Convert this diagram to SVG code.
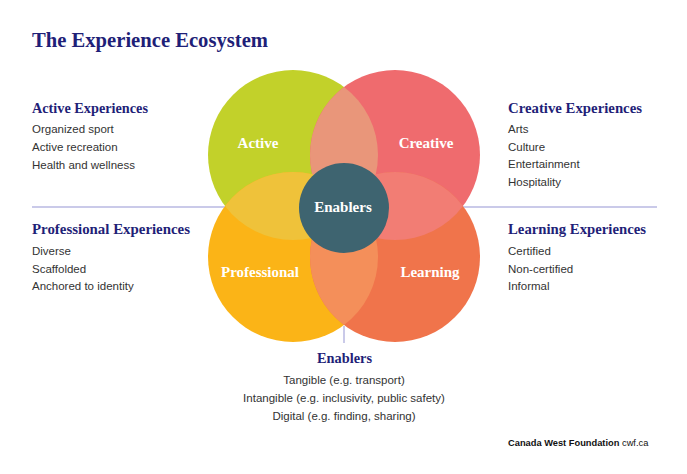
<svg xmlns="http://www.w3.org/2000/svg" width="687" height="474" viewBox="0 0 687 474">
<style>
.title{font-family:"Liberation Serif","DejaVu Serif",serif;font-weight:bold;fill:#1f1f78;font-size:22px}
.head{font-family:"Liberation Serif","DejaVu Serif",serif;font-weight:bold;fill:#1f1f78;font-size:15px}
.body{font-family:"Liberation Sans","DejaVu Sans",sans-serif;fill:#333;font-size:11.5px}
.lbl{font-family:"Liberation Serif","DejaVu Serif",serif;font-weight:bold;fill:#fff;font-size:15px;text-anchor:middle}
.rule{stroke:#b9b9e2;stroke-width:1.5;fill:none}
.foot{font-family:"Liberation Sans","DejaVu Sans",sans-serif;fill:#111;font-size:9.3px}
</style>
<rect width="687" height="474" fill="#fff"/>
<text class="title" x="32" y="47" textLength="236" lengthAdjust="spacingAndGlyphs">The Experience Ecosystem</text>

<g id="connectors">
<line class="rule" x1="32" y1="207" x2="657" y2="207"/>
<line class="rule" x1="344" y1="326" x2="344" y2="343"/>
</g>

<g id="circles">
<g id="active"><circle cx="293" cy="155" r="85" fill="#c2d12a"/></g>
<g id="creative"><circle cx="395" cy="155" r="85" fill="#ef6b6e"/></g>
<g id="professional"><circle cx="293" cy="257" r="85" fill="#fbb417"/></g>
<g id="learning"><circle cx="395" cy="257" r="85" fill="#f0744b"/></g>
<path d="M344,87 A85,85 0 0 1 344,223 A85,85 0 0 1 344,87 Z" fill="#e9967a"/>
<path d="M225,206 A85,85 0 0 1 361,206 A85,85 0 0 1 225,206 Z" fill="#efc23a"/>
<path d="M327,206 A85,85 0 0 1 463,206 A85,85 0 0 1 327,206 Z" fill="#f27d74"/>
<path d="M344,189 A85,85 0 0 1 344,325 A85,85 0 0 1 344,189 Z" fill="#f48f5a"/>
<g id="enablers"><circle cx="344" cy="208" r="45" fill="#3e6470"/></g>
<text class="lbl" x="258" y="148">Active</text>
<text class="lbl" x="426" y="148">Creative</text>
<text class="lbl" x="260" y="277">Professional</text>
<text class="lbl" x="430" y="277">Learning</text>
<text class="lbl" x="343" y="212">Enablers</text>
</g>

<g id="active-experiences">
<text class="head" x="32" y="113" textLength="116" lengthAdjust="spacingAndGlyphs">Active Experiences</text>
<text class="body" x="32" y="133">Organized sport</text>
<text class="body" x="32" y="151">Active recreation</text>
<text class="body" x="32" y="169">Health and wellness</text>
</g>

<g id="creative-experiences">
<text class="head" x="508" y="113" textLength="134" lengthAdjust="spacingAndGlyphs">Creative Experiences</text>
<text class="body" x="508" y="133">Arts</text>
<text class="body" x="508" y="151">Culture</text>
<text class="body" x="508" y="168">Entertainment</text>
<text class="body" x="508" y="186">Hospitality</text>
</g>

<g id="professional-experiences">
<text class="head" x="32" y="234" textLength="158" lengthAdjust="spacingAndGlyphs">Professional Experiences</text>
<text class="body" x="32" y="255">Diverse</text>
<text class="body" x="32" y="273">Scaffolded</text>
<text class="body" x="32" y="290">Anchored to identity</text>
</g>

<g id="learning-experiences">
<text class="head" x="508" y="234" textLength="138" lengthAdjust="spacingAndGlyphs">Learning Experiences</text>
<text class="body" x="508" y="255">Certified</text>
<text class="body" x="508" y="273">Non-certified</text>
<text class="body" x="508" y="290">Informal</text>
</g>

<g id="enablers-list">
<text class="head" x="317" y="363" textLength="55" lengthAdjust="spacingAndGlyphs">Enablers</text>
<text class="body" x="344" y="384" text-anchor="middle">Tangible (e.g. transport)</text>
<text class="body" x="344" y="402" text-anchor="middle">Intangible (e.g. inclusivity, public safety)</text>
<text class="body" x="344" y="420" text-anchor="middle">Digital (e.g. finding, sharing)</text>
</g>

<text class="foot" x="508" y="446"><tspan font-weight="bold">Canada West Foundation</tspan> cwf.ca</text>
</svg>
